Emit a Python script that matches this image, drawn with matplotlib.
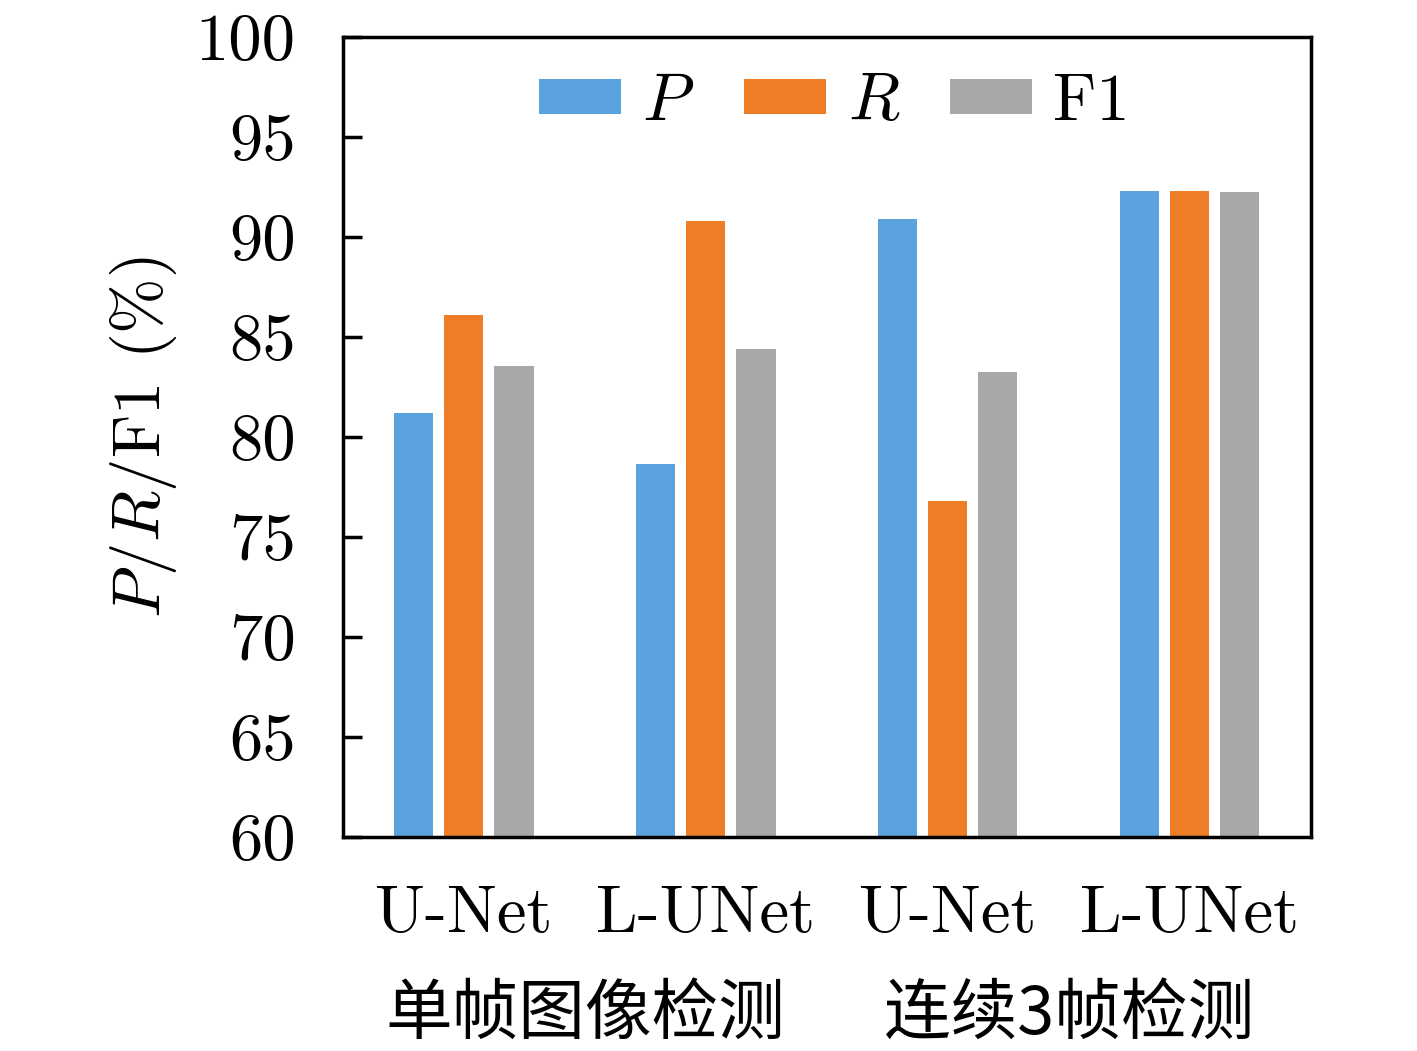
import matplotlib

matplotlib.use("Agg")
import matplotlib.pyplot as plt
import numpy as np

# values (%)
models = ["U-Net", "L-UNet", "U-Net", "L-UNet"]
groups = ["单帧图像检测", "连续3帧检测"]
precision = [81.2, 78.65, 90.9, 92.3]
recall = [86.1, 90.8, 76.8, 92.3]
f1 = [83.55, 84.4, 83.25, 92.25]
yticks = [60, 65, 70, 75, 80, 85, 90, 95, 100]

plt.rcParams["font.family"] = ["cmr10", "Noto Sans CJK SC", "DejaVu Sans"]
plt.rcParams["mathtext.fontset"] = "cm"
plt.rcParams["axes.formatter.use_mathtext"] = True

FS = 48

fig = plt.figure(figsize=(14.17, 10.51), dpi=100)
ax = fig.add_axes([0.242, 0.2036, 0.683, 0.7612])

x = np.arange(len(models))
w, off = 0.162, 0.207
series = [
    (precision, "#5BA3DF", "$P$"),
    (recall, "#ED7D27", "$R$"),
    (f1, "#A8A8A8", "F1"),
]
for i, (vals, col, lab) in enumerate(series):
    ax.bar(x + (i - 1) * off, vals, width=w, color=col, label=lab)

ax.set_xlim(-0.5, 3.5)
ax.set_ylim(60, 100)
ax.set_yticks(yticks)
ax.set_yticklabels([str(t) for t in yticks], fontsize=FS)
ax.tick_params(axis="y", direction="in", length=14, width=2.5, pad=34)
ax.set_xticks(x)
ax.set_xticklabels(models, fontsize=FS)
ax.tick_params(axis="x", length=0, pad=35)
for s in ax.spines.values():
    s.set_linewidth(2.5)

ax.set_ylabel("$P$/$R$/F1 (%)", fontsize=FS, labelpad=12)

for gi, name in enumerate(groups):
    ax.text(0.5 + 2 * gi, -0.222, name, transform=ax.get_xaxis_transform(),
            ha="center", va="center", fontsize=FS,
            family=["Noto Sans CJK SC", "DejaVu Sans"])

ax.legend(loc="upper center", ncol=3, frameon=False, fontsize=FS,
          handlelength=1.23, handleheight=0.42, columnspacing=0.75,
          handletextpad=0.32, bbox_to_anchor=(0.508, 1.029))

fig.savefig("out.png", dpi=100)
